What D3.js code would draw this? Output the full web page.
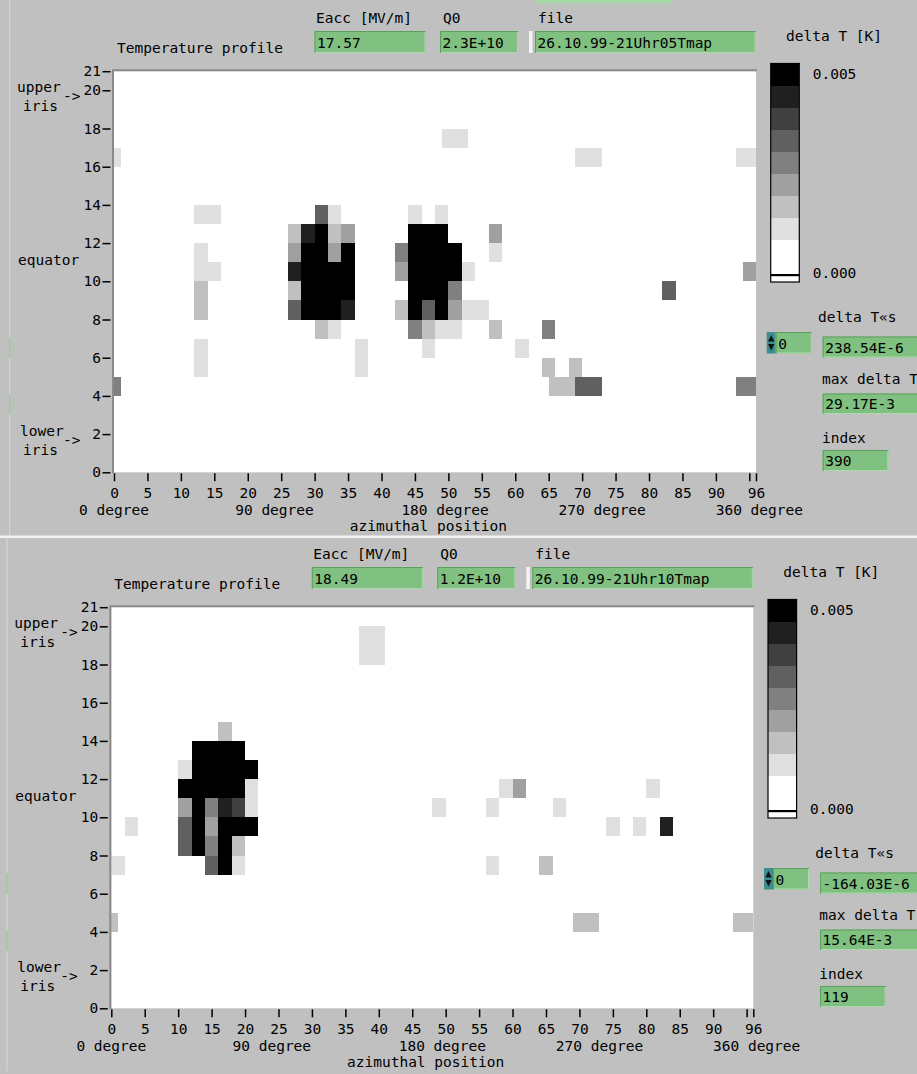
<!DOCTYPE html>
<html>
<head>
<meta charset="utf-8">
<script src="https://cdn.jsdelivr.net/npm/d3@7"></script>
<style>
  html, body { margin: 0; padding: 0; background: #c0c0c0; }
  svg text { font-family: "DejaVu Sans Mono", monospace; font-size: 14.5px; fill: #000; }
</style>
</head>
<body>
<svg id="chart" width="917" height="1074"></svg>
<script>
// ---- axis ticks -------------------------------------------------------
const xTicks = [0, 5, 10, 15, 20, 25, 30, 35, 40, 45, 50, 55, 60, 65, 70, 75, 80, 85, 90, 95, 96];
const xTickLabels = [0, 5, 10, 15, 20, 25, 30, 35, 40, 45, 50, 55, 60, 65, 70, 75, 80, 85, 90, 96];
const yTicks = [0, 2, 4, 6, 8, 10, 12, 14, 16, 18, 20, 21];
const degreeLabels = ["0 degree", "90 degree", "180 degree", "270 degree", "360 degree"];
const degreeAt = [0, 24, 49.5, 73, 96.5];

// ---- grey levels of the delta T scale (0 = below range ... 8 = >= 0.005 K)
const shadeColors = ["#ffffff", "#e0e0e0", "#c0c0c0", "#a0a0a0", "#808080", "#606060", "#404040", "#202020", "#000000"];
const scaleEnds = [0, 0.005];

// ---- run parameters ---------------------------------------------------
const eaccValues = ["17.57", "18.49"];
const q0Values = ["2.3E+10", "1.2E+10"];
const fileNames = ["26.10.99-21Uhr05Tmap", "26.10.99-21Uhr10Tmap"];
const spinnerValues = ["0", "0"];
const deltaTsValues = ["238.54E-6", "-164.03E-6"];
const maxDeltaTValues = ["29.17E-3", "15.64E-3"];
const indexValues = ["390", "119"];

// ---- heated spots: [row, from azimuth, to azimuth, grey level] --------
const spotsRun05 = [
  [17, 49, 53, 1],
  [16, 0, 1, 1], [16, 69, 73, 1], [16, 93, 96, 1],
  [13, 12, 16, 1], [13, 30, 32, 5], [13, 32, 34, 1], [13, 44, 46, 1], [13, 48, 50, 1],
  [12, 26, 28, 2], [12, 28, 30, 7], [12, 30, 32, 8], [12, 32, 34, 2], [12, 34, 36, 3], [12, 44, 50, 8], [12, 56, 58, 3],
  [11, 12, 14, 1], [11, 26, 28, 3], [11, 28, 32, 8], [11, 32, 34, 3], [11, 34, 36, 8], [11, 42, 44, 4], [11, 44, 52, 8], [11, 56, 58, 1],
  [10, 12, 16, 1], [10, 26, 28, 7], [10, 28, 36, 8], [10, 42, 44, 3], [10, 44, 52, 8], [10, 52, 54, 1], [10, 94, 96, 3],
  [9, 12, 14, 2], [9, 26, 28, 2], [9, 28, 36, 8], [9, 44, 50, 8], [9, 50, 52, 4], [9, 82, 84, 5],
  [8, 12, 14, 2], [8, 26, 28, 5], [8, 28, 34, 8], [8, 34, 36, 7], [8, 42, 44, 2], [8, 44, 46, 8], [8, 46, 48, 5], [8, 48, 50, 8], [8, 50, 52, 3], [8, 52, 56, 1],
  [7, 30, 32, 2], [7, 32, 34, 1], [7, 44, 46, 4], [7, 46, 48, 2], [7, 48, 52, 1], [7, 56, 58, 2], [7, 64, 66, 4],
  [6, 12, 14, 1], [6, 36, 38, 1], [6, 46, 48, 1], [6, 60, 62, 1],
  [5, 12, 14, 1], [5, 36, 38, 1], [5, 64, 66, 2], [5, 68, 70, 2],
  [4, 0, 1, 4], [4, 65, 69, 2], [4, 69, 73, 5], [4, 93, 96, 4]
];

const spotsRun10 = [
  [19, 37, 41, 1], [18, 37, 41, 1],
  [14, 16, 18, 2],
  [13, 12, 20, 8],
  [12, 10, 12, 1], [12, 12, 22, 8],
  [11, 10, 20, 8], [11, 20, 22, 1], [11, 58, 60, 1], [11, 60, 62, 3], [11, 80, 82, 1],
  [10, 10, 12, 3], [10, 12, 14, 8], [10, 14, 16, 4], [10, 16, 18, 7], [10, 18, 20, 6], [10, 20, 22, 1], [10, 48, 50, 1], [10, 56, 58, 1], [10, 66, 68, 1],
  [9, 2, 4, 1], [9, 10, 12, 5], [9, 12, 14, 8], [9, 14, 16, 3], [9, 16, 22, 8], [9, 74, 76, 1], [9, 78, 80, 1], [9, 82, 84, 7],
  [8, 10, 12, 5], [8, 12, 14, 8], [8, 14, 16, 4], [8, 16, 18, 8], [8, 18, 20, 2],
  [7, 0, 2, 1], [7, 14, 16, 5], [7, 16, 18, 8], [7, 18, 20, 1], [7, 56, 58, 1], [7, 64, 66, 2],
  [4, 0, 1, 2], [4, 69, 73, 2], [4, 93, 96, 2]
];

const panelSpots = [spotsRun05, spotsRun10];

// ---- layout -----------------------------------------------------------
const panelShift = [[0, 0], [-2.7, 536]];

const svg = d3.select("#chart");
svg.append("rect").attr("width", 917).attr("height", 1074).attr("fill", "#c0c0c0");

const shade = d3.scaleOrdinal().domain(d3.range(9)).range(shadeColors);

function label(parent, x, y, txt, anchor) {
  return parent.append("text").attr("x", x).attr("y", y)
    .attr("text-anchor", anchor || "start").text(txt);
}

function field(parent, x, y, w, h, txt) {
  const f = parent.append("g");
  f.append("rect").attr("x", x).attr("y", y).attr("width", w).attr("height", h).attr("fill", "#80c080");
  f.append("path").attr("d", `M${x + 0.5},${y + h}V${y + 0.5}H${x + w}`)
    .attr("fill", "none").attr("stroke", "#5e9e5e");
  f.append("path").attr("d", `M${x + 1},${y + h - 0.5}H${x + w - 0.5}V${y + 1}`)
    .attr("fill", "none").attr("stroke", "#a8dca8");
  label(f, x + 2.5, y + h - 5, txt);
  return f;
}

function drawPanel(i) {
  const [dx, dy] = panelShift[i];
  const g = svg.append("g").attr("transform", `translate(${dx},${dy})`);

  const x = d3.scaleLinear().domain([0, 96]).range([114, 756]);
  const y = d3.scaleLinear().domain([0, 21]).range([472.3, 71.2]);

  // header
  label(g, 316, 23, "Eacc [MV/m]");
  label(g, 443, 23, "Q0");
  label(g, 538, 23, "file");
  label(g, 117, 53, "Temperature profile");
  field(g, 314.5, 31, 111, 22, eaccValues[i]);
  field(g, 440, 31, 78, 22, q0Values[i]);
  g.append("rect").attr("x", 529).attr("y", 31).attr("width", 3.5).attr("height", 22).attr("fill", "#f4f4f4");
  field(g, 535, 31, 220.5, 22, fileNames[i]);

  // map area
  g.append("rect").attr("x", x(0)).attr("y", y(21))
    .attr("width", x(96) - x(0)).attr("height", y(0) - y(21)).attr("fill", "#ffffff");

  g.append("g").selectAll("rect").data(panelSpots[i]).join("rect")
    .attr("x", d => x(d[1]))
    .attr("width", d => x(d[2]) - x(d[1]))
    .attr("y", d => y(d[0] + 1))
    .attr("height", d => y(d[0]) - y(d[0] + 1))
    .attr("fill", d => shade(d[3]))
    .attr("shape-rendering", "crispEdges");

  g.append("path")
    .attr("d", `M${x(0) - 1},${y(0) + 1}V${y(21) - 1}H${x(96) + 1}`)
    .attr("fill", "none").attr("stroke", "#8a8a8a").attr("stroke-width", 2);

  // azimuth axis
  const gx = g.append("g").attr("transform", `translate(0,${y(0) + 1})`)
    .call(d3.axisBottom(x).tickValues(xTicks).tickSize(8).tickPadding(6)
      .tickFormat(d => xTickLabels.includes(d) ? d : ""));
  gx.select(".domain").remove();
  gx.selectAll("line").attr("stroke", "#000").attr("stroke-width", 1.5);

  // row axis
  const gy = g.append("g").attr("transform", `translate(${x(0) - 3.5},0)`)
    .call(d3.axisLeft(y).tickValues(yTicks).tickSize(8).tickPadding(1.5));
  gy.select(".domain").remove();
  gy.selectAll("line").attr("stroke", "#000").attr("stroke-width", 1.5);

  degreeLabels.forEach((t, k) => label(g, x(degreeAt[k]), y(0) + 43, t, "middle"));
  label(g, x(47), y(0) + 59, "azimuthal position", "middle");

  // cavity landmarks
  label(g, 17, y(20) + 2, "upper");
  label(g, 23, y(20) + 20.5, "iris");
  label(g, 63, y(20) + 11, "->");
  label(g, 18, y(11) + 3, "equator");
  label(g, 20, y(2) + 2, "lower");
  label(g, 23, y(2) + 20.5, "iris");
  label(g, 63, y(2) + 11, "->");

  // delta T colour scale
  label(g, 786, 41, "delta T [K]");
  const cbX = 770.7, cbW = 28.6;
  const bands = d3.scaleBand().domain([8, 7, 6, 5, 4, 3, 2, 1]).range([63.5, 239.5]);
  const cb = g.append("g");
  cb.append("rect").attr("x", cbX).attr("y", 63.5).attr("width", cbW).attr("height", 218.5).attr("fill", shade(0));
  cb.selectAll("rect.band").data(bands.domain()).join("rect").attr("class", "band")
    .attr("x", cbX).attr("width", cbW)
    .attr("y", d => bands(d)).attr("height", bands.bandwidth())
    .attr("fill", d => shade(d)).attr("shape-rendering", "crispEdges");
  cb.append("rect").attr("x", cbX).attr("y", 274).attr("width", cbW).attr("height", 2.2).attr("fill", "#000");
  cb.append("rect").attr("x", cbX).attr("y", 63.5).attr("width", cbW).attr("height", 218.5)
    .attr("fill", "none").attr("stroke", "#000").attr("stroke-width", 1.2);
  const cbScale = d3.scaleLinear().domain(scaleEnds).range([272.5, 73.5]);
  scaleEnds.forEach(v => label(g, 812.7, cbScale(v), d3.format(".3f")(v)).attr("dy", "0.36em"));

  // indicators
  label(g, 818, 322, "delta T\u00abs");
  const sp = g.append("g");
  sp.append("rect").attr("x", 766.7).attr("y", 332).attr("width", 9).attr("height", 21.5).attr("fill", "#3c8e8e");
  sp.append("path").attr("d", "M768,341.5L771.2,335L774.4,341.5Z").attr("fill", "#111");
  sp.append("path").attr("d", "M768,344L771.2,350.5L774.4,344Z").attr("fill", "#111");
  field(sp, 775.7, 332, 36, 21.5, spinnerValues[i]);
  field(g, 822.7, 336.5, 100, 21, deltaTsValues[i]);

  label(g, 822, 384, "max delta T");
  field(g, 822.7, 393.5, 100, 20.5, maxDeltaTValues[i]);

  label(g, 822, 442.5, "index");
  field(g, 822.7, 450, 65.6, 21, indexValues[i]);

  // window edge
  g.append("rect").attr("x", 9).attr("y", 0).attr("width", 1.2).attr("height", 535).attr("fill", "#d4d4d4");
  g.append("rect").attr("x", 9).attr("y", 337).attr("width", 1.5).attr("height", 21).attr("fill", "#8fd08f");
  g.append("rect").attr("x", 9).attr("y", 395).attr("width", 1.5).attr("height", 20).attr("fill", "#8fd08f");
}

drawPanel(0);
drawPanel(1);

// strip of a control above the first panel and divider between panels
svg.append("rect").attr("x", 535).attr("y", 0).attr("width", 137).attr("height", 3.5).attr("fill", "#a6d8a6");
svg.append("rect").attr("x", 0).attr("y", 535.5).attr("width", 917).attr("height", 2.5).attr("fill", "#f2f2f2");
</script>
</body>
</html>
